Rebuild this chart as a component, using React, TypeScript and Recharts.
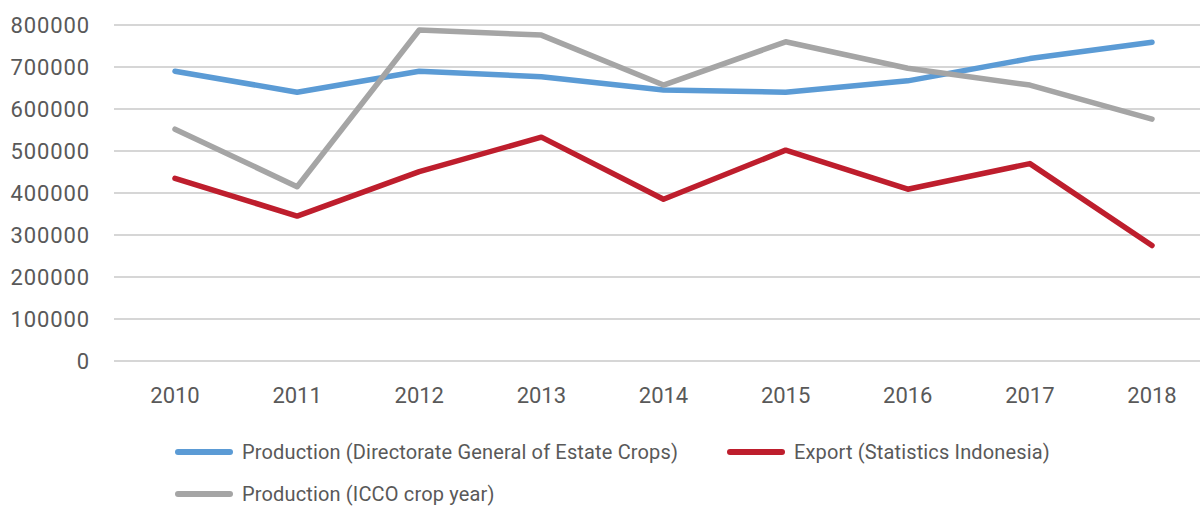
import React from 'react';
import { LineChart, Line, XAxis, YAxis, CartesianGrid, Legend } from 'recharts';

const years = ['2010', '2011', '2012', '2013', '2014', '2015', '2016', '2017', '2018'];
const productionDGEC = [690000, 640000, 690000, 677000, 645000, 640000, 667000, 720000, 759000];
const exportBPS = [435000, 345000, 451000, 533000, 385000, 502000, 409000, 470000, 275000];
const productionICCO = [552000, 415000, 788000, 776000, 657000, 760000, 697000, 657000, 576000];
const yTicks = [0, 100000, 200000, 300000, 400000, 500000, 600000, 700000, 800000];

const seriesNames = {
  dgec: 'Production (Directorate General of Estate Crops)',
  bps: 'Export (Statistics Indonesia)',
  icco: 'Production (ICCO crop year)',
};

const colors = { dgec: '#5B9BD5', bps: '#BE1E2D', icco: '#A5A5A5' };

const data = years.map((y, i) => ({
  year: y,
  dgec: productionDGEC[i],
  bps: exportBPS[i],
  icco: productionICCO[i],
}));

const FONT = 'Roboto, "DejaVu Sans", sans-serif';
const TEXT = '#595959';

const LegendItem = ({ color, label, left, top }: { color: string; label: string; left: number; top: number }) => (
  <div style={{ position: 'absolute', left, top, display: 'flex', alignItems: 'center', height: 24 }}>
    <div style={{ width: 58, height: 6, borderRadius: 3, background: color }} />
    <span style={{ marginLeft: 9, fontSize: 20, letterSpacing: 0.15, color: TEXT, fontFamily: FONT, whiteSpace: 'nowrap' }}>{label}</span>
  </div>
);

const renderLegend = () => (
  <div style={{ position: 'relative', width: 1200, height: 80 }}>
    <LegendItem color={colors.dgec} label={seriesNames.dgec} left={175} top={0} />
    <LegendItem color={colors.bps} label={seriesNames.bps} left={727} top={0} />
    <LegendItem color={colors.icco} label={seriesNames.icco} left={175} top={42} />
  </div>
);

export default function App() {
  return (
    <div style={{ position: 'absolute', left: 0, top: 0, width: 1200, height: 507, overflow: 'hidden', background: '#fff' }}>
      <LineChart
        width={1213}
        height={507}
        data={data}
        margin={{ top: 25, right: 0, bottom: 6, left: 0 }}
      >
        <CartesianGrid vertical={false} stroke="#C8C8C8" strokeWidth={1.3} />
        <XAxis
          dataKey="year"
          axisLine={false}
          tickLine={false}
          tickSize={6}
          tickMargin={20}
          height={60}
          interval={0}
          padding={{ left: 61, right: 61 }}
          tick={{ fill: TEXT, fontSize: 22, fontFamily: FONT }}
        />
        <YAxis
          domain={[0, 800000]}
          ticks={yTicks}
          axisLine={false}
          tickLine={false}
          tickSize={6}
          tickMargin={18}
          width={114}
          interval={0}
          tick={{ fill: TEXT, fontSize: 22, fontFamily: FONT, letterSpacing: 0.9 }}
        />
        <Legend
          verticalAlign="bottom"
          content={renderLegend}
          wrapperStyle={{ left: 0, top: 440, bottom: 'auto', width: 1200, height: 80 }}
        />
        <Line type="linear" dataKey="dgec" name={seriesNames.dgec} stroke={colors.dgec} strokeWidth={5.5} dot={false} strokeLinecap="round" strokeLinejoin="round" isAnimationActive={false} />
        <Line type="linear" dataKey="bps" name={seriesNames.bps} stroke={colors.bps} strokeWidth={5.5} dot={false} strokeLinecap="round" strokeLinejoin="round" isAnimationActive={false} />
        <Line type="linear" dataKey="icco" name={seriesNames.icco} stroke={colors.icco} strokeWidth={5.5} dot={false} strokeLinecap="round" strokeLinejoin="round" isAnimationActive={false} />
      </LineChart>
    </div>
  );
}
